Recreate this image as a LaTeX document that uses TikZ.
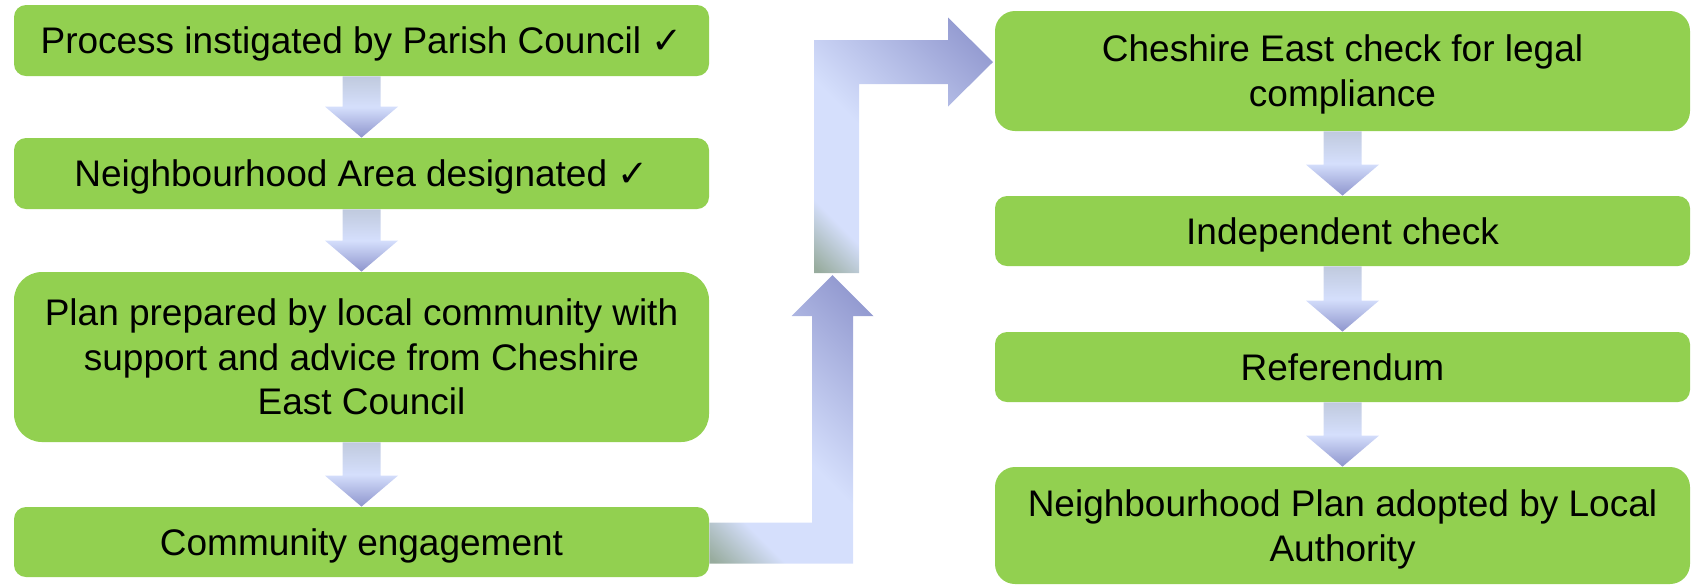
\documentclass[tikz,border=0pt]{standalone}
\usepackage{fontspec}
\setmainfont{Liberation Sans}
\newfontfamily\symf{DejaVu Sans}
\usetikzlibrary{calc}
\definecolor{boxgreen}{RGB}{146,208,80}
\definecolor{lb}{RGB}{213,223,252}
\definecolor{db}{RGB}{142,149,205}
\definecolor{gg}{RGB}{152,172,158}
\definecolor{tg}{RGB}{192,202,222}
\pgfdeclareverticalshading{bentshade}{100bp}{color(0bp)=(gg); color(15.5bp)=(gg); color(26.5bp)=(lb); color(46bp)=(lb); color(82bp)=(db); color(100bp)=(db)}
\tikzset{
  box/.style={fill=boxgreen, inner sep=0pt, align=center, minimum width=347.5pt,
    font=\fontsize{18.5}{22.3}\selectfont},
  smallarrow/.style={top color=tg, bottom color=db, middle color=lb},
  bentarrow/.style={shading=bentshade, shading angle=-45},
}
% text block whose first cap top and last baseline are centred in the box
\newcommand\btext[2]{\raisebox{0pt}[#1][0pt]{\begin{tabular}[b]{@{}c@{}}#2\end{tabular}}}
\newcommand\flowarrow[2]{%
  \path[smallarrow] let \p1=(#1.south), \p2=(#2.north) in
  (\x1-9.5pt,\y1) -- (\x1+9.5pt,\y1) -- (\x1+9.5pt,\y2+15.5pt) -- (\x1+18.25pt,\y2+15.5pt)
  -- (\x1,\y2) -- (\x1-18.25pt,\y2+15.5pt) -- (\x1-9.5pt,\y2+15.5pt) -- cycle;}
\begin{document}
\begin{tikzpicture}[x=0.5pt,y=-0.5pt]
\useasboundingbox (0,0) rectangle (1692,586);
\node[box, minimum height=35.5pt, rounded corners=6pt] (b1) at (361.5,40.5) {\btext{13.25pt}{Process instigated by Parish Council {\symf ✓}}};
\node[box, minimum height=35.5pt, rounded corners=6pt] (b2) at (361.5,173.5) {\btext{13.25pt}{Neighbourhood Area designated {\symf ✓}}};
\node[box, minimum height=85pt, rounded corners=14pt] (b3) at (361.5,357) {\btext{57.85pt}{Plan prepared by local community with\\support and advice from Cheshire\\East Council}};
\node[box, minimum height=35pt, rounded corners=6pt] (b4) at (361.5,542) {\btext{13.25pt}{Community engagement}};
\node[box, minimum height=60pt, rounded corners=10pt] (r1) at (1342.5,71) {\btext{35.55pt}{Cheshire East check for legal\\compliance}};
\node[box, minimum height=35pt, rounded corners=6pt] (r2) at (1342.5,231) {\btext{13.25pt}{Independent check}};
\node[box, minimum height=35pt, rounded corners=6pt] (r3) at (1342.5,367) {\btext{13.25pt}{Referendum}};
\node[box, minimum height=58.5pt, rounded corners=10pt] (r4) at (1342.5,525.5) {\btext{35.55pt}{Neighbourhood Plan adopted by Local\\Authority}};
\flowarrow{b1}{b2}
\flowarrow{b2}{b3}
\flowarrow{b3}{b4}
\flowarrow{r1}{r2}
\flowarrow{r2}{r3}
\flowarrow{r3}{r4}
\coordinate (uptip) at (993,62);
\path[bentarrow] (814,273) -- (814,40) -- (948,40) -- (948,17.5) -- (uptip) -- (948,106.5) -- (948,84) -- (859,84) -- (859,273) -- cycle;
\coordinate (lowtip) at (832.5,275);
\path[bentarrow] ([yshift=9.75pt]b4.east) -- (812,522.5) -- (812,316) -- (791.5,316) -- (lowtip) -- (873.5,316) -- (853,316) -- (853,563.5) -- ([yshift=-10.75pt]b4.east) -- cycle;
\end{tikzpicture}
\end{document}
